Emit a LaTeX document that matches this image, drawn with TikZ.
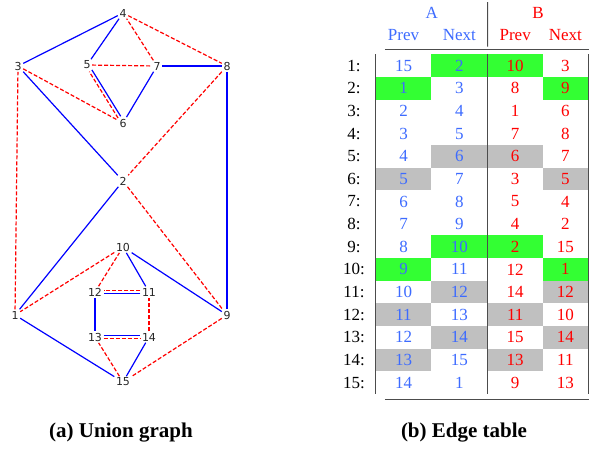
\documentclass[tikz,border=0pt]{standalone}
\usepackage{fontspec}
\setmainfont{Liberation Serif}
\newfontfamily\graphfont{DejaVu Sans}
\usepackage{xcolor}
\usetikzlibrary{positioning}
\definecolor{tourblue}{RGB}{0,0,255}
\definecolor{tourred}{RGB}{255,0,0}
\definecolor{headblue}{RGB}{61,107,255}
\definecolor{cellgreen}{RGB}{51,255,51}
\definecolor{cellgrey}{RGB}{192,192,192}
\tikzset{
    vertex/.style={inner sep=1.5pt, font=\graphfont\fontsize{11}{11}\selectfont, text=black!85},
    aedge/.style={draw=tourblue, line width=1.2pt},
    bedge/.style={draw=tourred, line width=1.2pt, dash pattern=on 4pt off 2pt},
    cell/.style={minimum height=22.64pt, inner sep=0pt, font=\fontsize{17}{17}\selectfont},
    rowlab/.style={inner sep=0pt, font=\fontsize{17}{17}\selectfont},
    head/.style={inner sep=0pt, font=\fontsize{17}{17}\selectfont},
    rule/.style={draw=black!70, line width=1pt},
    caption/.style={font=\fontsize{21}{21}\selectfont\bfseries},
}

\begin{document}
\begin{tikzpicture}[x=1pt, y=-1pt]
    \useasboundingbox (0,0) rectangle (597,448);

    % union graph
    \node[vertex] (v1) at (15,315) {1};
    \node[vertex] (v2) at (123,181) {2};
    \node[vertex] (v3) at (18,66) {3};
    \node[vertex] (v4) at (123,13) {4};
    \node[vertex] (v5) at (87,65) {5};
    \node[vertex] (v6) at (123,123) {6};
    \node[vertex] (v7) at (157,66) {7};
    \node[vertex] (v8) at (227,66) {8};
    \node[vertex] (v9) at (227,315) {9};
    \node[vertex] (v10) at (123,247) {10};
    \node[vertex] (v11) at (149,292) {11};
    \node[vertex] (v12) at (95,292) {12};
    \node[vertex] (v13) at (95,337) {13};
    \node[vertex] (v14) at (149,337) {14};
    \node[vertex] (v15) at (123,382) {15};

    \foreach \a/\b in {1/2, 2/3, 3/4, 4/5, 6/7, 7/8, 8/9, 9/10, 10/11, 12/13, 14/15, 15/1}
        \draw[aedge] (v\a) -- (v\b);
    \foreach \a/\b in {1/3, 3/6, 5/7, 7/4, 4/8, 8/2, 2/9, 9/15, 15/13, 14/11, 12/10, 10/1}
        \draw[bedge] (v\a) -- (v\b);

    % shared edges
    \draw[aedge, transform canvas={xshift=1.3pt, yshift=0.9pt}] (v5) -- (v6);
    \draw[bedge, transform canvas={xshift=-1.3pt, yshift=-0.9pt}] (v6) -- (v5);
    \draw[aedge, transform canvas={yshift=-1.7pt}] (v11) -- (v12);
    \draw[bedge, transform canvas={yshift=1.7pt}] (v11) -- (v12);
    \draw[aedge, transform canvas={yshift=1.7pt}] (v13) -- (v14);
    \draw[bedge, transform canvas={yshift=-1.7pt}] (v13) -- (v14);

    % edge table
    \node[head, text=headblue] (hA) at (431.7,12.7) {A};
    \node[head, text=tourred] (hB) at (538,12.7) {B};
    \node[head, text=headblue] (hAp) at (403.5,34.7) {Prev};
    \node[head, text=headblue] (hAn) at (459.3,34.7) {Next};
    \node[head, text=tourred] (hBp) at (515.2,34.7) {Prev};
    \node[head, text=tourred] (hBn) at (565.3,34.7) {Next};

    \foreach \r/\ap/\an/\bp/\bn/\fa/\fb/\fc/\fd in {
        1/15/2/10/3/none/cellgreen/cellgreen/none,
        2/1/3/8/9/cellgreen/none/none/cellgreen,
        3/2/4/1/6/none/none/none/none,
        4/3/5/7/8/none/none/none/none,
        5/4/6/6/7/none/cellgrey/cellgrey/none,
        6/5/7/3/5/cellgrey/none/none/cellgrey,
        7/6/8/5/4/none/none/none/none,
        8/7/9/4/2/none/none/none/none,
        9/8/10/2/15/none/cellgreen/cellgreen/none,
        10/9/11/12/1/cellgreen/none/none/cellgreen,
        11/10/12/14/12/none/cellgrey/none/cellgrey,
        12/11/13/11/10/cellgrey/none/cellgrey/none,
        13/12/14/15/14/none/cellgrey/none/cellgrey,
        14/13/15/13/11/cellgrey/none/cellgrey/none,
        15/14/1/9/13/none/none/none/none} {
        \node[rowlab] (lab\r) at (354,{42.98+22.64*\r}) {\r:};
        \node[cell, minimum width=55pt, fill=\fa, text=headblue] (ap\r) at (403.5,{42.98+22.64*\r}) {\ap};
        \node[cell, minimum width=56.7pt, fill=\fb, text=headblue] (an\r) at (459.35,{42.98+22.64*\r}) {\an};
        \node[cell, minimum width=55pt, fill=\fc, text=tourred] (bp\r) at (515.2,{42.98+22.64*\r}) {\bp};
        \node[cell, minimum width=45.3pt, fill=\fd, text=tourred] (bn\r) at (565.35,{42.98+22.64*\r}) {\bn};
    }

    \coordinate (midtop) at (487.7,2);
    \draw[rule] (midtop) -- ([yshift=7.6pt]bp1.north west);
    \draw[rule] (bp1.north west) -- (bp15.south west);
    \draw[rule] (ap1.north west) -- (ap15.south west);
    \draw[rule] (bn1.north east) -- (bn15.south east);
    \draw[rule] ([xshift=9pt, yshift=4.3pt]ap1.north west) -- ([xshift=1pt, yshift=4.3pt]bn1.north east);
    \draw[rule] ([xshift=9pt, yshift=-5pt]ap15.south west) -- ([xshift=1pt, yshift=-5pt]bn15.south east);

    % captions
    \node[caption] (capa) at (121,433) {(a) Union graph};
    \node[caption] (capb) at (464,433) {(b) Edge table};
\end{tikzpicture}
\end{document}
